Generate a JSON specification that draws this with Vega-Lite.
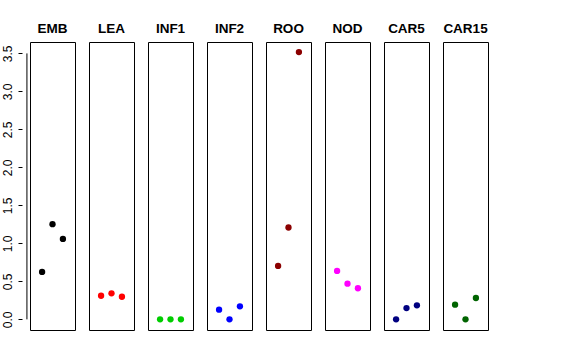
{
  "$schema": "https://vega.github.io/schema/vega-lite/v6.json",
  "padding": {"left": 1, "top": 21, "right": 5, "bottom": 5},
  "background": "white",
  "data": {"values": [
    {"panel": "EMB", "idx": 1, "value": 0.624},
    {"panel": "EMB", "idx": 2, "value": 1.253},
    {"panel": "EMB", "idx": 3, "value": 1.059},
    {"panel": "LEA", "idx": 1, "value": 0.311},
    {"panel": "LEA", "idx": 2, "value": 0.343},
    {"panel": "LEA", "idx": 3, "value": 0.298},
    {"panel": "INF1", "idx": 1, "value": 0.0},
    {"panel": "INF1", "idx": 2, "value": 0.0},
    {"panel": "INF1", "idx": 3, "value": 0.0},
    {"panel": "INF2", "idx": 1, "value": 0.127},
    {"panel": "INF2", "idx": 2, "value": 0.0},
    {"panel": "INF2", "idx": 3, "value": 0.171},
    {"panel": "ROO", "idx": 1, "value": 0.703},
    {"panel": "ROO", "idx": 2, "value": 1.209},
    {"panel": "ROO", "idx": 3, "value": 3.517},
    {"panel": "NOD", "idx": 1, "value": 0.637},
    {"panel": "NOD", "idx": 2, "value": 0.47},
    {"panel": "NOD", "idx": 3, "value": 0.409},
    {"panel": "CAR5", "idx": 1, "value": 0.0},
    {"panel": "CAR5", "idx": 2, "value": 0.149},
    {"panel": "CAR5", "idx": 3, "value": 0.185},
    {"panel": "CAR15", "idx": 1, "value": 0.193},
    {"panel": "CAR15", "idx": 2, "value": 0.0},
    {"panel": "CAR15", "idx": 3, "value": 0.281}
  ]},
  "facet": {
    "column": {
      "field": "panel",
      "type": "nominal",
      "sort": ["EMB", "LEA", "INF1", "INF2", "ROO", "NOD", "CAR5", "CAR15"],
      "title": null,
      "header": {"labelFont": "Liberation Sans", "labelFontSize": 13.5, "labelFontWeight": "bold", "labelColor": "black", "labelPadding": 6}
    }
  },
  "spacing": 12,
  "spec": {
    "width": 45,
    "height": 288,
    "layer": [
      {
        "mark": {"type": "point", "filled": true, "size": 40, "opacity": 1},
        "encoding": {
          "x": {"field": "idx", "type": "quantitative", "scale": {"domain": [-0.16, 4.16], "nice": false, "zero": false}, "axis": null},
          "y": {"field": "value", "type": "quantitative", "scale": {"domain": [-0.14, 3.65], "nice": false, "zero": false},
            "axis": {"title": null, "values": [0, 0.5, 1, 1.5, 2, 2.5, 3, 3.5], "format": ".1f", "grid": false, "offset": 3,
              "domain": false, "tickColor": "black", "tickSize": 4, "labelAngle": 270, "labelAlign": "center", "labelBaseline": "bottom", "labelPadding": 4,
              "labelFont": "Liberation Sans", "labelFontSize": 12, "labelColor": "black"}},
          "color": {"field": "panel", "type": "nominal",
            "scale": {"domain": ["EMB", "LEA", "INF1", "INF2", "ROO", "NOD", "CAR5", "CAR15"],
              "range": ["#000000", "#FF0000", "#00CD00", "#0000FF", "#8B0000", "#FF00FF", "#000080", "#006400"]},
            "legend": null}
        }
      },
      {
        "transform": [{"filter": "datum.panel === 'EMB' && datum.idx === 1"}],
        "mark": {"type": "rule", "color": "black", "strokeWidth": 1},
        "encoding": {
          "x": {"datum": -0.455, "type": "quantitative"},
          "y": {"datum": 0, "type": "quantitative"},
          "y2": {"datum": 3.5}
        }
      }
    ]
  },
  "config": {"view": {"stroke": "black", "strokeWidth": 1}}
}
